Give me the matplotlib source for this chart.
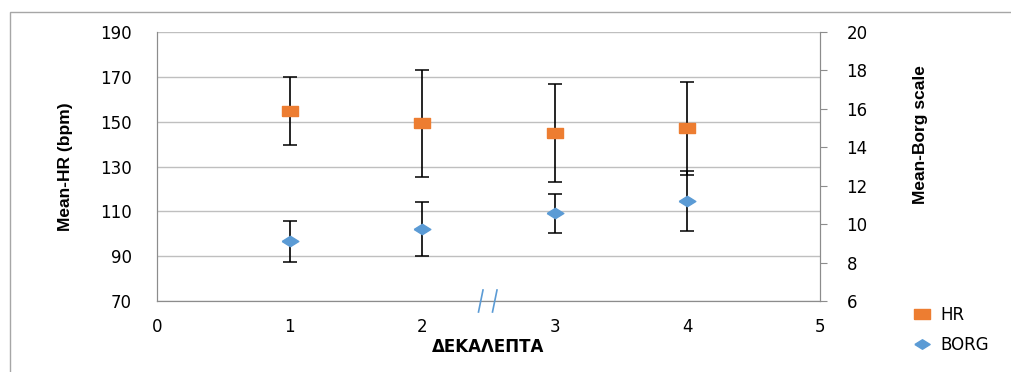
import matplotlib.pyplot as plt
from matplotlib.patches import Rectangle
from matplotlib.lines import Line2D

# data
decades = [1, 2, 3, 4]
hr_mean = [154.8, 149.3, 145.0, 147.0]
hr_err = [15.3, 23.9, 21.7, 20.6]
borg_mean = [9.11, 9.76, 10.56, 11.2]
borg_err = [1.07, 1.40, 1.00, 1.55]

hr_ticks = [70, 90, 110, 130, 150, 170, 190]
borg_ticks = [6, 8, 10, 12, 14, 16, 18, 20]
x_ticks = [0, 1, 2, 3, 4, 5]

plt.rcParams['font.family'] = ['DejaVu Sans']

orange = '#ED7D31'
blue = '#5B9BD5'
rect = [(-1.6, -1), (1.6, -1), (1.6, 1), (-1.6, 1), (-1.6, -1)]
diam = [(-1.6, 0), (0, 1), (1.6, 0), (0, -1), (-1.6, 0)]

label_font = ['Liberation Sans', 'DejaVu Sans']

fig = plt.figure(figsize=(10.11, 3.72), dpi=100)
ax = fig.add_axes([157 / 1011, 1 - 301 / 372, 663 / 1011, 269 / 372])
ax2 = ax.twinx()

# outer chart frame
fig.patches.append(Rectangle((10 / 1011, -0.05), 1.1, 1 - 12 / 372 + 0.05,
                             transform=fig.transFigure, fill=False,
                             edgecolor='#A6A6A6', linewidth=1))

ax.errorbar(decades, hr_mean, yerr=hr_err, fmt='none', ecolor='black',
            elinewidth=1.2, capsize=5, capthick=1.1)
ax.plot(decades, hr_mean, linestyle='none', marker=rect, markersize=12,
        color=orange, zorder=5)
ax2.errorbar(decades, borg_mean, yerr=borg_err, fmt='none', ecolor='black',
             elinewidth=1.2, capsize=5, capthick=1.1)
ax2.plot(decades, borg_mean, linestyle='none', marker=diam, markersize=12,
         color=blue, zorder=5)

ax.set_xlim(0, 5)
ax.set_ylim(70, 190)
ax2.set_ylim(6, 20)
ax.set_xticks(x_ticks)
ax.set_yticks(hr_ticks)
ax2.set_yticks(borg_ticks)
ax.grid(axis='y', color='#BFBFBF', linewidth=1)
ax.set_axisbelow(True)

for a in (ax, ax2):
    for s in a.spines.values():
        s.set_color('#8C8C8C')
    a.spines['top'].set_visible(False)
ax.tick_params(axis='y', length=0, labelsize=12, pad=18)
ax.tick_params(axis='x', length=0, labelsize=12, pad=12)
ax2.tick_params(axis='y', length=5, color='#8C8C8C', labelsize=12, pad=14)

ax.set_xlabel('ΔΕΚΑΛΕΠΤΑ', fontsize=12, fontweight='bold', labelpad=2)
ax.set_ylabel('Mean-HR (bpm)', fontsize=12.5, fontweight='bold',
              family=label_font)
ax.yaxis.set_label_coords(-0.127, 0.5)
ax2.set_ylabel('Mean-Borg scale', fontsize=12.5, fontweight='bold',
               family=label_font)
ax2.yaxis.set_label_coords(1.14, 0.62)

# axis break mark
for x0 in (483, 497):
    fig.add_artist(Line2D([x0 / 1011, (x0 - 4.5) / 1011],
                          [1 - 290 / 372, 1 - 312 / 372],
                          color=blue, linewidth=1.2))

h1, = ax.plot([], [], linestyle='none', marker=rect, markersize=11,
              color=orange)
h2, = ax.plot([], [], linestyle='none', marker=diam, markersize=11,
              color=blue)
fig.legend([h1, h2], ['HR', 'BORG'], loc='upper left',
           bbox_to_anchor=(897 / 1011, 1 - 291 / 372), frameon=False,
           fontsize=12, handletextpad=0.5, labelspacing=0.7,
           handlelength=1.2)

fig.savefig('out.png', dpi=100)
